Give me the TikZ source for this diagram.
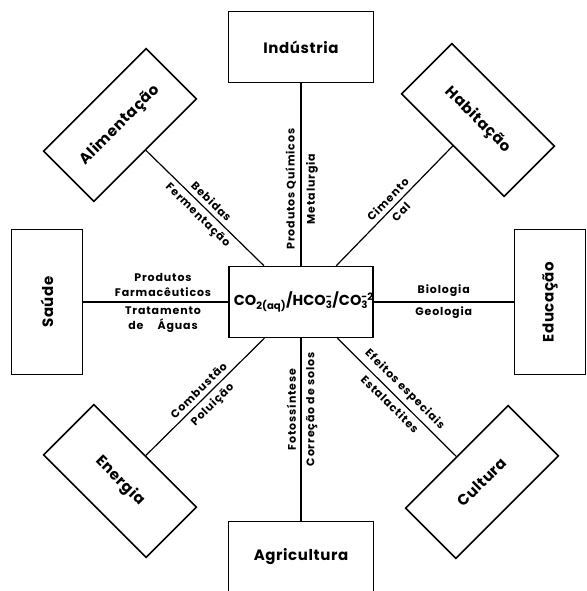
\documentclass[tikz,border=0pt]{standalone}
\usepackage{fontspec}
\setmainfont{Poppins}
\newfontfamily\areafont[LetterSpace=4]{Poppins}
\newfontfamily\lblfont[LetterSpace=8]{Poppins}
\newcommand{\chemion}[2]{\rlap{\textsuperscript{#2}}\textsubscript{#1}}
\begin{document}
\begin{tikzpicture}[x=1pt, y=-1pt,
  area/.style={draw, line width=1.5pt, minimum width=145pt, minimum height=71pt,
    inner sep=0pt, font=\areafont\bfseries\fontsize{15}{15}\selectfont},
  link/.style={line width=1.2pt},
  lbl/.style={font=\lblfont\bfseries\fontsize{11}{15}\selectfont, inner sep=4.5pt, align=center}]
  \useasboundingbox (0,0) rectangle (586,591);
  % Centre
  \node[area, minimum width=144pt, font=\bfseries\fontsize{14.5}{15}\selectfont] (co2) at (301,302)
    {CO\textsubscript{2(aq)}/HCO\chemion{3}{-}/CO\chemion{3}{-2}};
  % Areas
  \node[area] (ind) at (301,47) {Indústria};
  \node[area] (agr) at (301,557) {Agricultura};
  \node[area, rotate=90] (sau) at (47,302) {Saúde};
  \node[area, rotate=90] (edu) at (550,302) {Educação};
  \node[area, rotate=45] (ali) at (120,125) {Alimentação};
  \node[area, rotate=-45] (hab) at (478,120) {Habitação};
  \node[area, rotate=-45] (ene) at (120,481) {Energia};
  \node[area, rotate=45] (cul) at (482,482) {Cultura};
  % Links
  \draw[link] (co2) -- node[lbl, rotate=90, anchor=south, pos=0.42] {Produtos Químicos}
    node[lbl, rotate=90, anchor=north, pos=0.42] {Metalurgia} (ind);
  \draw[link] (co2) -- node[lbl, rotate=90, anchor=south, pos=0.39] {Fotossíntese}
    node[lbl, rotate=90, anchor=north, pos=0.39] {Correção de solos} (agr);
  \draw[link] (sau) -- node[lbl, above, pos=0.55] {Produtos\\Farmacêuticos}
    node[lbl, below, pos=0.55] {Tratamento\\de \quad Águas} (co2);
  \draw[link] (co2) -- node[lbl, above] {Biologia} node[lbl, below] {Geologia} (edu);
  \draw[link] (ali) -- node[lbl, sloped, above] {Bebidas}
    node[lbl, sloped, below] {Fermentação} (co2);
  \draw[link] (co2) -- node[lbl, sloped, above] {Cimento}
    node[lbl, sloped, below] {Cal} (hab);
  \draw[link] (ene) -- node[lbl, sloped, above] {Combustão}
    node[lbl, sloped, below] {Poluição} (co2);
  \draw[link] (co2) -- node[lbl, sloped, above] {Efeitos especiais}
    node[lbl, sloped, below] {Estalactites} (cul);
\end{tikzpicture}
\end{document}
